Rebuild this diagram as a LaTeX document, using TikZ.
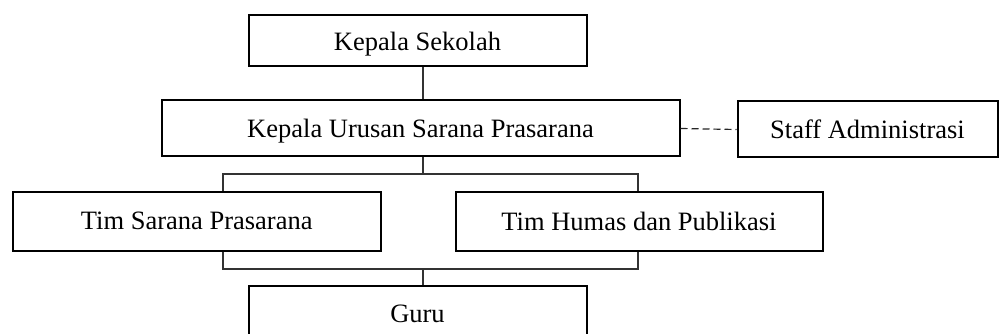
\documentclass[tikz,border=0pt]{standalone}
\usepackage{fontspec}
\setmainfont{Liberation Serif}
\begin{document}
\begin{tikzpicture}[x=1pt,y=-1pt,
  box/.style={draw=black,line width=2pt,rectangle,inner sep=0pt,fill=white,
    text depth=0pt,font=\fontsize{26.5}{30}\selectfont},
  link/.style={draw=black!80,line width=1.1pt},
  dlink/.style={draw=black!85,line width=1.2pt,dash pattern=on 7pt off 4pt}]
\clip (0,0) rectangle (999,334);
\fill[white] (0,0) rectangle (999,334);
\node[box,minimum width=338pt,minimum height=51pt] (ks) at (417.5,41) {Kepala Sekolah};
\node[box,minimum width=518pt,minimum height=56pt] (ku) at (420.5,128.5) {Kepala Urusan Sarana Prasarana};
\node[box,minimum width=260pt,minimum height=56pt] (sa) at (867.5,129.5) {Staff Administrasi};
\node[box,minimum width=368pt,minimum height=59pt] (ts) at (196.75,221) {Tim Sarana Prasarana};
\node[box,minimum width=367pt,minimum height=59pt] (th) at (639,221) {Tim Humas dan Publikasi};
\node[box,minimum width=338pt,minimum height=56pt] (gu) at (417.5,314) {Guru};
\coordinate (busM) at (423,174);
\coordinate (busL) at (223,174);
\coordinate (busR) at (638,174);
\coordinate (lowM) at (423,269);
\coordinate (lowL) at (223,269);
\coordinate (lowR) at (638,269);
\draw[link] (ks.south -| busM) -- (ku.north -| busM);
\draw[link] (ku.south -| busM) -- (busM);
\draw[link] (ts.north -| busL) -- (busL) -- (busR) -- (th.north -| busR);
\draw[link] (ts.south -| lowL) -- (lowL) -- (lowR) -- (th.south -| lowR);
\draw[link] (lowM) -- (gu.north -| lowM);
\draw[dlink] (ku.east) -- (sa.west);
\end{tikzpicture}
\end{document}
